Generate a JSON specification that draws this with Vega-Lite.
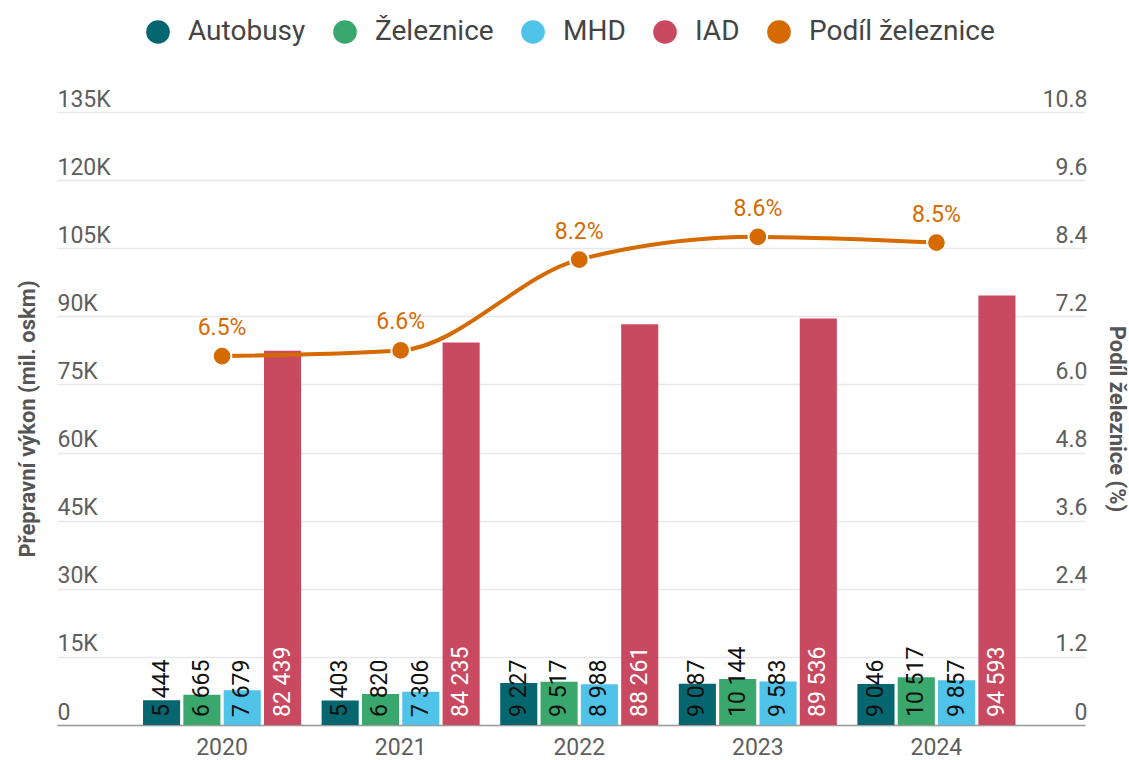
{
  "$schema": "https://vega.github.io/schema/vega-lite/v6.json",
  "width": 1028,
  "height": 613,
  "autosize": {"type": "none"},
  "padding": {"left": 57, "top": 112, "right": 44, "bottom": 35},
  "config": {
    "font": "Roboto",
    "view": {"stroke": null},
    "locale": {"number": {"decimal": ".", "thousands": " ", "grouping": [3], "currency": ["", ""]}}
  },
  "datasets": {
    "bars": [
      {"year": "2020", "type": "Autobusy", "value": 5444},
      {"year": "2020", "type": "Železnice", "value": 6665},
      {"year": "2020", "type": "MHD", "value": 7679},
      {"year": "2020", "type": "IAD", "value": 82439},
      {"year": "2021", "type": "Autobusy", "value": 5403},
      {"year": "2021", "type": "Železnice", "value": 6820},
      {"year": "2021", "type": "MHD", "value": 7306},
      {"year": "2021", "type": "IAD", "value": 84235},
      {"year": "2022", "type": "Autobusy", "value": 9227},
      {"year": "2022", "type": "Železnice", "value": 9517},
      {"year": "2022", "type": "MHD", "value": 8988},
      {"year": "2022", "type": "IAD", "value": 88261},
      {"year": "2023", "type": "Autobusy", "value": 9087},
      {"year": "2023", "type": "Železnice", "value": 10144},
      {"year": "2023", "type": "MHD", "value": 9583},
      {"year": "2023", "type": "IAD", "value": 89536},
      {"year": "2024", "type": "Autobusy", "value": 9046},
      {"year": "2024", "type": "Železnice", "value": 10517},
      {"year": "2024", "type": "MHD", "value": 9857},
      {"year": "2024", "type": "IAD", "value": 94593}
    ],
    "share": [
      {"year": "2020", "share": 6.5},
      {"year": "2021", "share": 6.6},
      {"year": "2022", "share": 8.2},
      {"year": "2023", "share": 8.6},
      {"year": "2024", "share": 8.5}
    ]
  },
  "encoding": {
    "x": {
      "field": "year",
      "type": "nominal",
      "sort": ["2020", "2021", "2022", "2023", "2024"],
      "scale": {"paddingInner": 0.115, "paddingOuter": 0.4355, "align": 0.553},
      "axis": {
        "title": null,
        "labelAngle": 0,
        "labelFontSize": 23,
        "labelColor": "#5e5e5e",
        "labelPadding": 11,
        "ticks": false,
        "domainColor": "#9a9a9a",
        "domainWidth": 1.5
      }
    }
  },
  "layer": [
    {
      "data": {"name": "bars"},
      "encoding": {
        "xOffset": {"field": "type", "type": "nominal", "sort": ["Autobusy", "Železnice", "MHD", "IAD"], "scale": {"paddingInner": 0.08, "paddingOuter": 0}},
        "y": {
          "field": "value",
          "type": "quantitative",
          "scale": {"domain": [0, 135000], "nice": false},
          "axis": {
            "title": "Přepravní výkon (mil. oskm)",
            "titleFontSize": 22,
            "titleFontWeight": "bold",
            "titleColor": "#555555",
            "titlePadding": 18,
            "values": [0, 15000, 30000, 45000, 60000, 75000, 90000, 105000, 120000, 135000],
            "labelExpr": "datum.value == 0 ? '0' : format(datum.value / 1000, 'd') + 'K'",
            "labelAlign": "left",
            "labelBaseline": "alphabetic",
            "labelPadding": 0,
            "labelOffset": -6,
            "labelFontSize": 23,
            "labelColor": "#5e5e5e",
            "ticks": false,
            "tickSize": 0,
            "domain": false,
            "gridColor": "#e8e8e8",
            "gridWidth": 1.5
          }
        }
      },
      "layer": [
        {
          "mark": {"type": "bar"},
          "encoding": {
            "color": {
              "field": "type",
              "type": "nominal",
              "scale": {
                "domain": ["Autobusy", "Železnice", "MHD", "IAD", "Podíl železnice"],
                "range": ["#05666f", "#3aa86c", "#4fc3e8", "#c94a60", "#d46a00"]
              },
              "legend": {
                "title": null,
                "orient": "none",
                "legendX": 87,
                "legendY": -94,
                "direction": "horizontal",
                "symbolType": "circle",
                "symbolSize": 560,
                "symbolStrokeWidth": 0,
                "labelFontSize": 28,
                "labelLimit": 400,
                "labelColor": "#444444",
                "labelOffset": 16,
                "columnPadding": 25
              }
            }
          }
        },
        {
          "mark": {"type": "text", "angle": 270, "align": "left", "baseline": "middle", "dx": 8, "fontSize": 23},
          "encoding": {
            "y": {"datum": 0},
            "text": {"field": "value", "type": "quantitative", "format": ","},
            "color": {"condition": {"test": "datum.type === 'IAD'", "value": "#ffffff"}, "value": "#111111"}
          }
        }
      ]
    },
    {
      "data": {"name": "share"},
      "transform": [{"calculate": "format(datum.share, '.1f') + '%'", "as": "label"}],
      "encoding": {
        "y": {
          "field": "share",
          "type": "quantitative",
          "scale": {"domain": [0, 10.8], "nice": false},
          "axis": {
            "orient": "right",
            "title": "Podíl železnice (%)",
            "titleFontSize": 22,
            "titleFontWeight": "bold",
            "titleColor": "#555555",
            "titlePadding": 17,
            "values": [0, 1.2, 2.4, 3.6, 4.8, 6.0, 7.2, 8.4, 9.6, 10.8],
            "labelExpr": "datum.value == 0 ? '0' : format(datum.value, '.1f')",
            "labelAlign": "right",
            "labelBaseline": "alphabetic",
            "labelPadding": 2,
            "labelOffset": -6,
            "labelFontSize": 23,
            "labelColor": "#5e5e5e",
            "ticks": false,
            "tickSize": 0,
            "domain": false,
            "grid": false
          }
        }
      },
      "layer": [
        {
          "mark": {"type": "line", "interpolate": "monotone", "color": "#d46a00", "strokeWidth": 4},
          "encoding": {}
        },
        {
          "mark": {"type": "point", "shape": "circle", "filled": true, "size": 350, "color": "#d46a00", "stroke": "#ffffff", "strokeWidth": 2, "opacity": 1},
          "encoding": {}
        },
        {
          "mark": {"type": "text", "dy": -28, "fontSize": 23, "color": "#d46a00"},
          "encoding": {"text": {"field": "label", "type": "nominal"}}
        }
      ]
    }
  ],
  "resolve": {"scale": {"y": "independent"}}
}
